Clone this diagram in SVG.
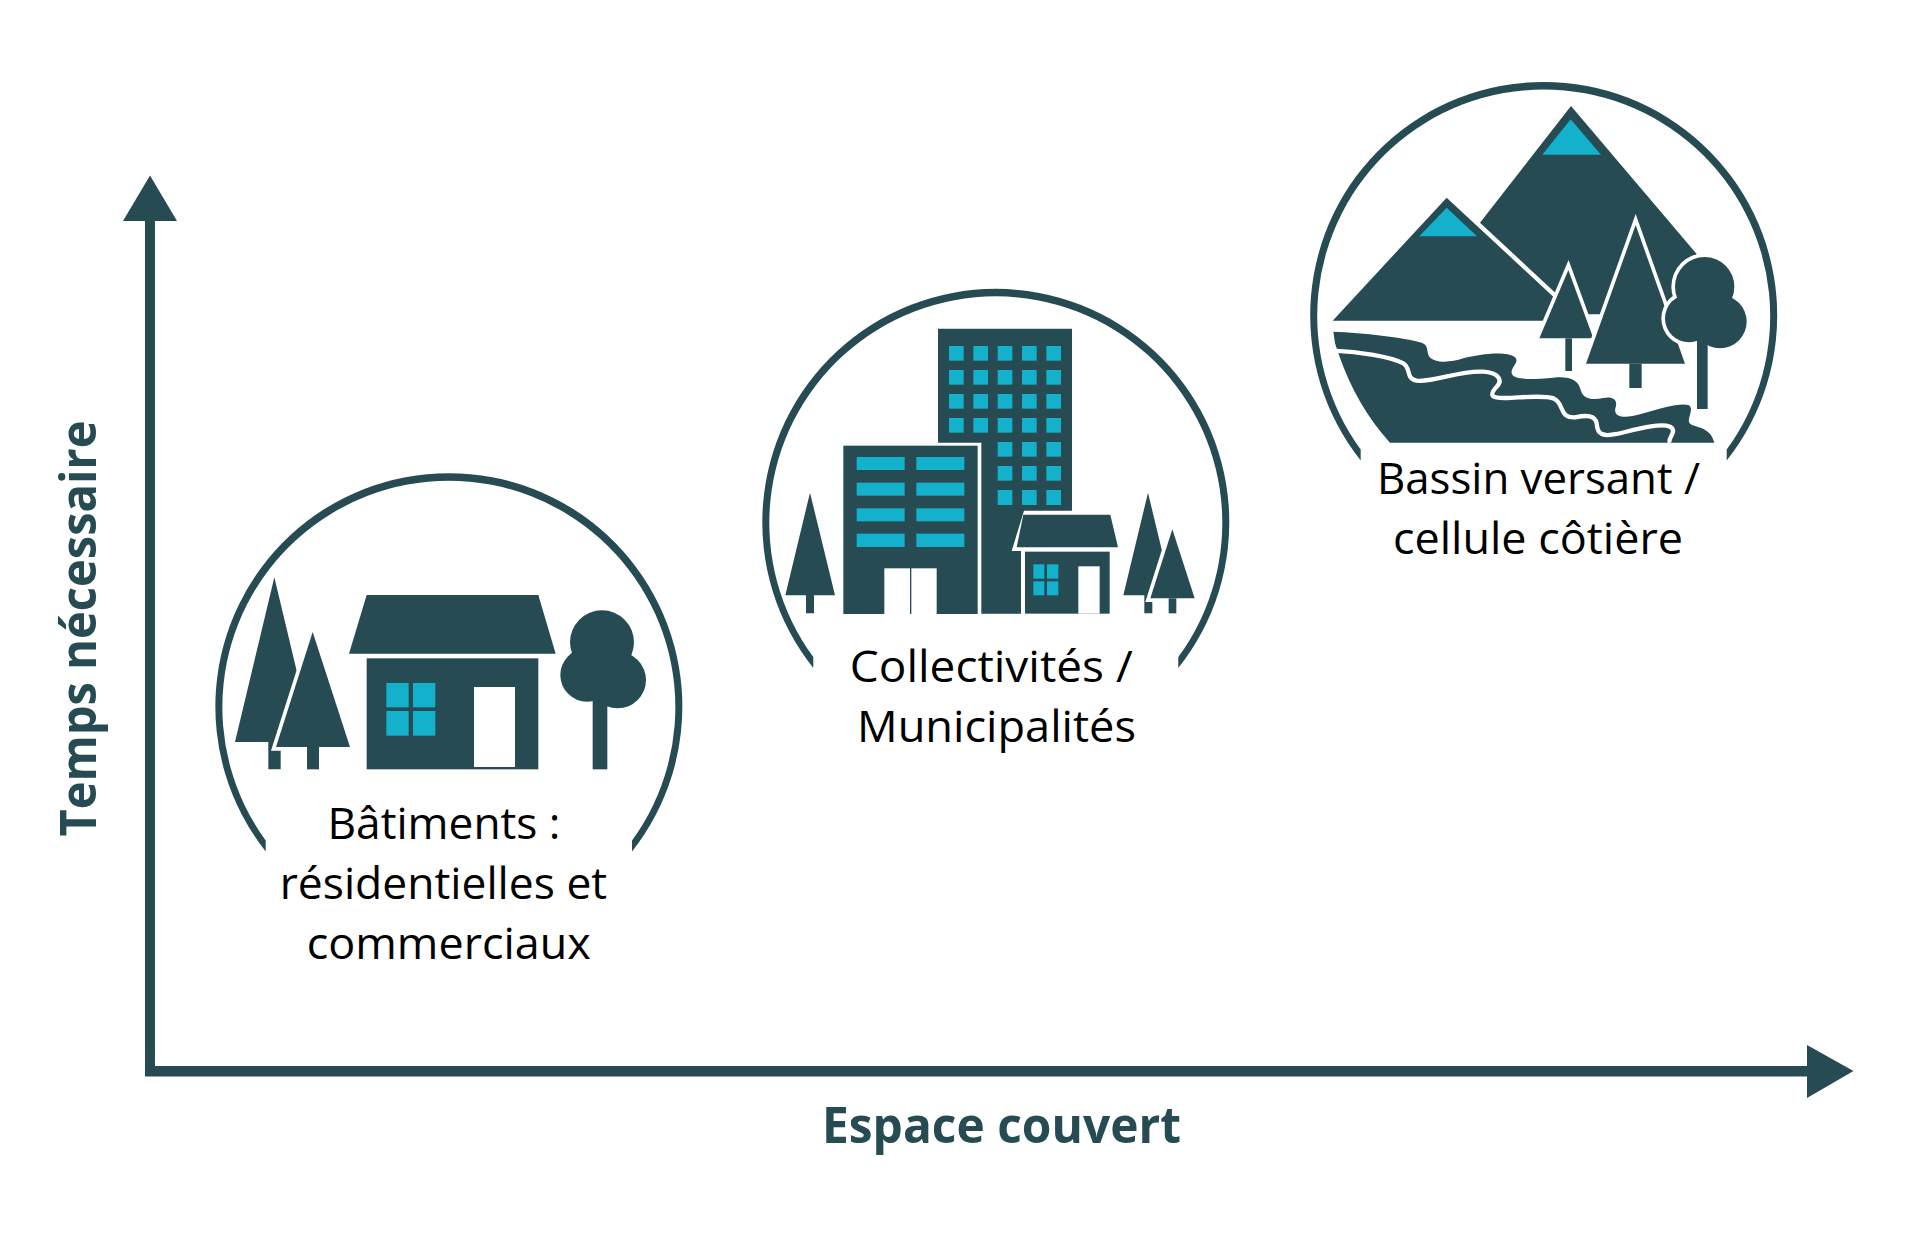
<svg xmlns="http://www.w3.org/2000/svg" width="1920" height="1242" viewBox="0 0 1920 1242">
<style>
.d{fill:#264b53}
.c{fill:#13b1cb}
.w{fill:#fff}
.o{fill:#264b53;stroke:#fff;stroke-width:22;paint-order:stroke;stroke-miterlimit:6}
.r{stroke-linejoin:round}
.l{font-family:"Open Sans","Noto Sans",sans-serif;font-size:44px;fill:#000}
.a{font-family:"Open Sans","Noto Sans",sans-serif;font-weight:700;font-size:51px;fill:#264b53}
</style>
<rect width="1920" height="1242" fill="#fff"/>
<g id="axes">
<path class="d" d="M145 221H155V1066H1807V1045L1853.500 1071L1807 1098V1076.500H145Z"/>
<path class="d" d="M150 175.500L177 221H123Z"/>
</g>
<text class="a" transform="translate(96 836.500) rotate(-90)" textLength="416" lengthAdjust="spacingAndGlyphs">Temps nécessaire</text>
<text class="a" x="822" y="1143" textLength="359" lengthAdjust="spacingAndGlyphs">Espace couvert</text>

<g id="batiments">
<path class="d" d="M265.700 851.500A233.500 233.500 0 1 1 632 851.500V840.500A226.500 226.500 0 1 0 265.700 840.500Z"/>
<g transform="translate(200 460) scale(.33333)">
<path class="d" d="M223 352L341 846H242V928H205V846H105Z"/>
<path class="o" d="M338 516L450 861H228Z"/>
<rect class="d" x="321" y="861" width="36" height="67"/>
<path class="d" d="M500 405H1015L1067 581H447Z"/>
<rect class="d" x="500" y="595" width="515" height="333"/>
<rect class="c" x="559" y="669" width="67" height="73"/>
<rect class="c" x="639" y="669" width="67" height="73"/>
<rect class="c" x="559" y="753" width="67" height="74"/>
<rect class="c" x="639" y="753" width="67" height="74"/>
<rect class="w" x="822" y="681" width="123" height="240"/>
<circle class="d" cx="1206" cy="547" r="96"/>
<circle class="d" cx="1161" cy="645" r="80"/>
<circle class="d" cx="1253" cy="660" r="85"/>
<rect class="d" x="1178" y="700" width="44" height="228"/>
</g>
<text class="l" x="327.500" y="839" textLength="233" lengthAdjust="spacingAndGlyphs">Bâtiments :</text>
<text class="l" x="279.700" y="899" textLength="327.500" lengthAdjust="spacingAndGlyphs">résidentielles et</text>
<text class="l" x="306.800" y="959" textLength="284" lengthAdjust="spacingAndGlyphs">commerciaux</text>
</g>

<g id="collectivites">
<path class="d" d="M813.300 668A233.500 233.500 0 1 1 1178.300 668V657A226.500 226.500 0 1 0 813.300 657Z"/>
<g transform="translate(750 280) scale(.33333)">
<path class="d" d="M564 146H966V692H822L785 813H813V1001H694V488H564Z"/>
<g class="c">
<rect x="597" y="198" width="44" height="44"/><rect x="670" y="198" width="44" height="44"/><rect x="743" y="198" width="44" height="44"/><rect x="816" y="198" width="44" height="44"/><rect x="889" y="198" width="44" height="44"/>
<rect x="597" y="270" width="44" height="44"/><rect x="670" y="270" width="44" height="44"/><rect x="743" y="270" width="44" height="44"/><rect x="816" y="270" width="44" height="44"/><rect x="889" y="270" width="44" height="44"/>
<rect x="597" y="342" width="44" height="44"/><rect x="670" y="342" width="44" height="44"/><rect x="743" y="342" width="44" height="44"/><rect x="816" y="342" width="44" height="44"/><rect x="889" y="342" width="44" height="44"/>
<rect x="597" y="414" width="44" height="44"/><rect x="670" y="414" width="44" height="44"/><rect x="743" y="414" width="44" height="44"/><rect x="816" y="414" width="44" height="44"/><rect x="889" y="414" width="44" height="44"/>
<rect x="743" y="486" width="44" height="44"/><rect x="816" y="486" width="44" height="44"/><rect x="889" y="486" width="44" height="44"/>
<rect x="743" y="558" width="44" height="44"/><rect x="816" y="558" width="44" height="44"/><rect x="889" y="558" width="44" height="44"/>
<rect x="743" y="630" width="44" height="45"/><rect x="816" y="630" width="44" height="45"/><rect x="889" y="630" width="44" height="45"/>
</g>
<rect class="d" x="280" y="497" width="403" height="505"/>
<g class="c">
<rect x="320" y="531" width="144" height="39"/><rect x="499" y="531" width="144" height="39"/>
<rect x="320" y="608" width="144" height="39"/><rect x="499" y="608" width="144" height="39"/>
<rect x="320" y="685" width="144" height="39"/><rect x="499" y="685" width="144" height="39"/>
<rect x="320" y="761" width="144" height="40"/><rect x="499" y="761" width="144" height="40"/>
</g>
<rect class="w" x="403" y="865" width="77" height="137"/>
<rect class="w" x="484" y="865" width="76" height="137"/>
<path class="d" d="M820 704H1081L1104 802H800Z"/>
<rect class="d" x="825" y="815" width="254" height="186"/>
<rect class="w" x="985" y="859" width="64" height="142"/>
<g class="c">
<rect x="850" y="853" width="33" height="43"/><rect x="891" y="853" width="34" height="43"/>
<rect x="850" y="904" width="33" height="42"/><rect x="891" y="904" width="34" height="42"/>
</g>
<path class="d" d="M180 638L255 946H192V1000H168V946H106Z"/>
<path class="d" d="M1194 638L1268 946H1207V1000H1183V946H1120Z"/>
<path class="o" d="M1267 748L1334 955H1201Z"/>
<rect class="d" x="1256" y="955" width="23" height="45"/>
</g>
<text class="l" x="849.800" y="682" textLength="283" lengthAdjust="spacingAndGlyphs">Collectivités /</text>
<text class="l" x="857" y="742" textLength="279" lengthAdjust="spacingAndGlyphs">Municipalités</text>
</g>

<g id="bassin">
<path class="d" d="M1360.700 460.500A233.500 233.500 0 1 1 1726.700 460.500V449.500A226.500 226.500 0 1 0 1360.700 449.500Z"/>
<g transform="translate(1300 70) scale(.33333)">
<path class="d" d="M813 108L1190 552L1130 700L1000 733H540V458Z"/>
<path class="c" d="M812 148L903 254H727Z"/>
<path class="o r" d="M440 383L837 752H98Z" style="stroke-width:26"/>
<path class="c" d="M440 413L531 499H358Z"/>
<path class="o" d="M805 600L880 805H718Z"/>
<rect class="d" x="796" y="805" width="20" height="98"/>
<path class="o" d="M1007 465L1155 881H858Z"/>
<rect class="d" x="988" y="881" width="37" height="73"/>
<g fill="#fff">
<circle cx="1214" cy="650" r="100"/><circle cx="1167" cy="745" r="83"/>
</g>
<circle class="d" cx="1214" cy="650" r="89"/>
<circle class="d" cx="1167" cy="745" r="72"/>
<circle class="d" cx="1260" cy="755" r="80"/>
<rect class="d" x="1191" y="780" width="32" height="237"/>
</g>
<g transform="translate(1320 310) scale(.33333)">
<path class="d" d="M40 65C130 68 250 82 305 98C328 106 318 125 328 140C345 160 390 158 430 145C480 132 560 122 585 142C600 158 572 170 575 190C580 212 640 208 700 203C750 198 775 210 782 240C790 270 820 270 850 264C880 258 895 270 886 295C880 325 920 325 960 313C1020 295 1080 278 1105 285C1125 295 1100 325 1108 338C1120 355 1170 345 1183 398H210Q110 290 55 130L45 100Z"/>
<path fill="none" stroke="#fff" stroke-width="13" d="M40 122C120 125 210 140 250 160C275 175 255 205 290 212C340 218 420 180 490 185C535 188 550 210 530 230C505 258 515 265 560 264C610 262 670 255 700 265C735 280 715 325 765 322C800 315 825 315 830 340C832 375 850 380 890 372C950 358 1020 338 1050 350C1075 365 1040 385 1050 399"/>
</g>
<text class="l" x="1377" y="494" textLength="323" lengthAdjust="spacingAndGlyphs">Bassin versant /</text>
<text class="l" x="1393" y="554" textLength="290" lengthAdjust="spacingAndGlyphs">cellule côtière</text>
</g>
</svg>
